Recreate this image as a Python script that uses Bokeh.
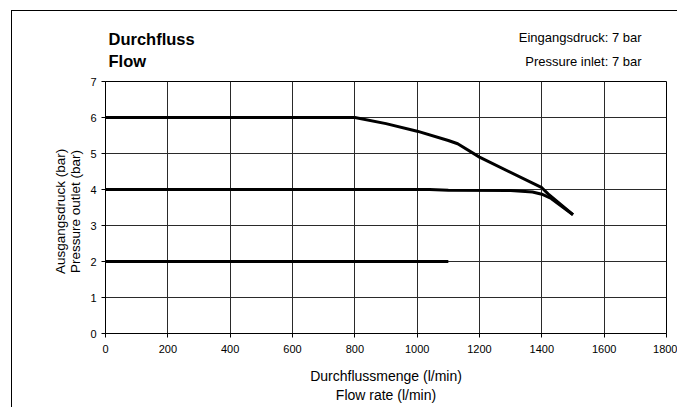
import math
from bokeh.plotting import figure
from bokeh.models import Range1d, Label, FixedTicker
from bokeh.embed import file_html
from bokeh.resources import INLINE

# Data
flow_6bar = [0, 800, 900, 1000, 1100, 1130, 1200, 1400, 1420, 1500]
pressure_6bar = [6.0, 6.0, 5.83, 5.62, 5.36, 5.27, 4.9, 4.05, 3.88, 3.3]

flow_4bar = [0, 1040, 1100, 1300, 1370, 1400, 1430, 1500]
pressure_4bar = [4.0, 4.0, 3.98, 3.97, 3.93, 3.87, 3.75, 3.3]

flow_2bar = [0, 1100]
pressure_2bar = [2.0, 2.0]

x_ticks = [0, 200, 400, 600, 800, 1000, 1200, 1400, 1600, 1800]
y_ticks = [0, 1, 2, 3, 4, 5, 6, 7]

title_lines = ["Durchfluss", "Flow"]
info_lines = ["Eingangsdruck: 7 bar", "Pressure inlet: 7 bar"]
x_label_lines = ["Durchflussmenge (l/min)", "Flow rate (l/min)"]
y_label_lines = ["Ausgangsdruck (bar)", "Pressure outlet (bar)"]

FONT = "Liberation Sans"

p = figure(width=666, height=397, output_backend="svg", toolbar_location=None,
           x_range=Range1d(0, 1800), y_range=Range1d(0, 7),
           min_border_left=93, min_border_right=12, min_border_top=70,
           min_border_bottom=75)
p.styles = {"margin-left": "11px", "margin-top": "10px",
            "border-left": "1px solid black", "border-top": "1px solid black"}

p.outline_line_color = "black"
p.outline_line_width = 1
p.background_fill_color = "white"
p.border_fill_color = "white"

for ax in (p.xaxis[0], p.yaxis[0]):
    ax.axis_line_color = "black"
    ax.major_tick_line_color = "black"
    ax.minor_tick_line_color = None
    ax.major_tick_in = 0
    ax.major_tick_out = 4
    ax.major_label_text_font = FONT
    ax.major_label_text_font_size = "11px"
    ax.major_label_text_color = "black"

p.xaxis[0].ticker = FixedTicker(ticks=x_ticks)
p.yaxis[0].ticker = FixedTicker(ticks=y_ticks)
p.xaxis[0].major_label_standoff = 7
p.yaxis[0].major_label_standoff = 5

p.xgrid.ticker = FixedTicker(ticks=x_ticks)
p.ygrid.ticker = FixedTicker(ticks=y_ticks)
p.grid.grid_line_color = "#2a2a2a"
p.grid.grid_line_width = 1

for xs, ys in ((flow_6bar, pressure_6bar), (flow_4bar, pressure_4bar),
               (flow_2bar, pressure_2bar)):
    p.line(xs, ys, line_color="black", line_width=3, line_join="round")

def lab(x, y, text, size, align, baseline, bold=False, angle=0.0):
    return Label(x=x, y=y, text=text, text_font=FONT, text_font_size=size,
                 text_font_style="bold" if bold else "normal",
                 text_align=align, text_baseline=baseline, angle=angle,
                 text_color="black")

# Title texts and info texts (in the top panel so they are not clipped)
p.add_layout(lab(9.6, 8.19, title_lines[0], "16.5px", "left", "alphabetic", True), "above")
p.add_layout(lab(9.6, 7.56, title_lines[1], "16.5px", "left", "alphabetic", True), "above")
p.add_layout(lab(1720, 8.22, info_lines[0], "13px", "right", "alphabetic"), "above")
p.add_layout(lab(1720, 7.56, info_lines[1], "13px", "right", "alphabetic"), "above")
# X axis title
p.add_layout(lab(900, -1.19, x_label_lines[0], "14px", "center", "middle"), "below")
p.add_layout(lab(900, -1.71, x_label_lines[1], "14px", "center", "middle"), "below")
# Y axis title
p.add_layout(lab(-144, 3.39, y_label_lines[0], "13.5px", "center", "middle", angle=math.pi / 2), "left")
p.add_layout(lab(-96, 3.39, y_label_lines[1], "13.5px", "center", "middle", angle=math.pi / 2), "left")

open("out.html", "w").write(file_html(p, INLINE))
